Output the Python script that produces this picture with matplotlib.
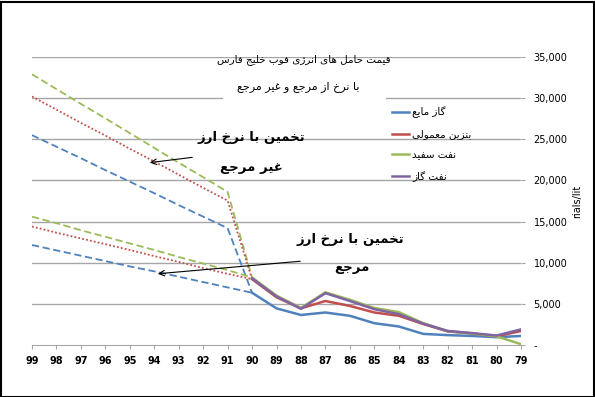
import matplotlib
matplotlib.use('Agg')
import matplotlib.pyplot as plt
from matplotlib.lines import Line2D
from matplotlib.patches import Rectangle

# years (Persian calendar, shown right to left as in the source)
years = [99, 98, 97, 96, 95, 94, 93, 92, 91, 90, 89, 88, 87, 86, 85, 84, 83, 82, 81, 80, 79]

# actual prices 90..79
lpg_actual = [6350, 4450, 3650, 3950, 3550, 2650, 2250, 1350, 1200, 1100, 950, 1100]
gasoline_actual = [8000, 5800, 4450, 5350, 4750, 3950, 3550, 2550, 1650, 1400, 1050, 1700]
kerosene_actual = [8200, 6000, 4500, 6400, 5500, 4500, 4000, 2650, 1700, 1400, 1050, 100]
gasoil_actual = [8100, 5900, 4400, 6300, 5350, 4350, 3750, 2600, 1700, 1450, 1150, 1900]

# estimate with non-reference exchange rate, 99..90
lpg_free = [25500, 24100, 22700, 21250, 19850, 18450, 17000, 15600, 14200, 6350]
gasoline_free = [30200, 28600, 27000, 25450, 23850, 22300, 20700, 19100, 17550, 8000]
kerosene_free = [32900, 31100, 29300, 27550, 25750, 23950, 22150, 20400, 18600, 8200]

# estimate with reference exchange rate, 99..90
lpg_ref = [12150, 11500, 10850, 10200, 9550, 8950, 8300, 7650, 7000, 6350]
gasoline_ref = [14400, 13650, 12950, 12250, 11550, 10800, 10100, 9350, 8650, 8000]
kerosene_ref = [15600, 14800, 13950, 13150, 12350, 11550, 10700, 9900, 9100, 8200]

yticks = [0, 5000, 10000, 15000, 20000, 25000, 30000, 35000]
ytick_labels = ['-', '5,000', '10,000', '15,000', '20,000', '25,000', '30,000', '35,000']

names = ['گاز مایع', 'بنزین معمولی', 'نفت سفید', 'نفت گاز']
title1 = 'قیمت حامل های انرژی فوب خلیج فارس'
title2 = 'با نرخ از مرجع و غیر مرجع'
note = 'تخمین با نرخ ارز'
note_free = 'غیر مرجع'
note_ref = 'مرجع'

blue, red, green, purple = '#4F81BD', '#C0504D', '#9BBB59', '#8064A2'

# tiny arabic shaper: matplotlib does not join letters by itself
FORMS = {
    'ا': ('\uFE8D', '\uFE8E', None, None),
    'ب': ('\uFE8F', '\uFE90', '\uFE91', '\uFE92'),
    'ت': ('\uFE95', '\uFE96', '\uFE97', '\uFE98'),
    'ج': ('\uFE9D', '\uFE9E', '\uFE9F', '\uFEA0'),
    'ح': ('\uFEA1', '\uFEA2', '\uFEA3', '\uFEA4'),
    'خ': ('\uFEA5', '\uFEA6', '\uFEA7', '\uFEA8'),
    'د': ('\uFEA9', '\uFEAA', None, None),
    'ر': ('\uFEAD', '\uFEAE', None, None),
    'ز': ('\uFEAF', '\uFEB0', None, None),
    'س': ('\uFEB1', '\uFEB2', '\uFEB3', '\uFEB4'),
    'ع': ('\uFEC9', '\uFECA', '\uFECB', '\uFECC'),
    'غ': ('\uFECD', '\uFECE', '\uFECF', '\uFED0'),
    'ف': ('\uFED1', '\uFED2', '\uFED3', '\uFED4'),
    'ق': ('\uFED5', '\uFED6', '\uFED7', '\uFED8'),
    'ل': ('\uFEDD', '\uFEDE', '\uFEDF', '\uFEE0'),
    'م': ('\uFEE1', '\uFEE2', '\uFEE3', '\uFEE4'),
    'ن': ('\uFEE5', '\uFEE6', '\uFEE7', '\uFEE8'),
    'ه': ('\uFEE9', '\uFEEA', '\uFEEB', '\uFEEC'),
    'و': ('\uFEED', '\uFEEE', None, None),
    'ژ': ('\uFB8A', '\uFB8B', None, None),
    'گ': ('\uFB92', '\uFB93', '\uFB94', '\uFB95'),
    'ی': ('\uFBFC', '\uFBFD', '\uFBFE', '\uFBFF'),
}


def fa(s):
    out = []
    for i, ch in enumerate(s):
        if ch not in FORMS:
            out.append(ch)
            continue
        prev = s[i - 1] if i > 0 else ''
        nxt = s[i + 1] if i + 1 < len(s) else ''
        jp = prev in FORMS and FORMS[prev][2] is not None
        jn = FORMS[ch][2] is not None and nxt in FORMS
        iso, fin, ini, med = FORMS[ch]
        if jp and jn:
            out.append(med)
        elif jp:
            out.append(fin)
        elif jn:
            out.append(ini)
        else:
            out.append(iso)
    return ''.join(reversed(out))


plt.rcParams['font.family'] = ['DejaVu Sans']

W, H = 595, 397
fig = plt.figure(figsize=(W / 100, H / 100), dpi=100)
ax = fig.add_axes([32 / W, (H - 345) / H, (521 - 32) / W, (345 - 57) / H])

pos = list(range(len(years)))
est = pos[:10]
act = pos[9:]

for yv in yticks[1:]:
    ax.axhline(yv, color='#A6A6A6', lw=1, zorder=0)

ax.plot(est, kerosene_free, color=green, lw=1.3, ls=(0, (4, 2)))
ax.plot(est, gasoline_free, color=red, lw=1.3, ls=(0, (1, 1.2)))
ax.plot(est, lpg_free, color=blue, lw=1.3, ls=(0, (4, 2)))
ax.plot(est, kerosene_ref, color=green, lw=1.3, ls=(0, (4, 2)))
ax.plot(est, gasoline_ref, color=red, lw=1.3, ls=(0, (1, 1.2)))
ax.plot(est, lpg_ref, color=blue, lw=1.3, ls=(0, (4, 2)))

ax.plot(act, lpg_actual, color=blue, lw=1.8)
ax.plot(act, gasoline_actual, color=red, lw=1.8)
ax.plot(act, kerosene_actual, color=green, lw=1.8)
ax.plot(act, gasoil_actual, color=purple, lw=1.8)

ax.set_xlim(0, len(years) - 1)
ax.set_ylim(0, 35000)
ax.set_xticks(pos)
ax.set_xticklabels([str(y) for y in years], fontsize=7, fontweight='bold')
ax.yaxis.tick_right()
ax.set_yticks(yticks)
ax.set_yticklabels(ytick_labels, fontsize=7)
ax.tick_params(axis='x', length=3, color='#A6A6A6', pad=5)
ax.tick_params(axis='y', length=3, color='#A6A6A6', pad=6)
for s in ['top', 'left', 'right']:
    ax.spines[s].set_visible(False)
ax.spines['bottom'].set_color('#A6A6A6')
ax.yaxis.set_label_position('right')
ax.set_ylabel('rials/lit', fontsize=7, labelpad=3)

handles = [Line2D([], [], color=c, lw=1.8) for c in [blue, red, green, purple]]
ax.legend(handles, [fa(n) for n in names], loc='upper left',
          bbox_to_anchor=(383 / W, 1 - 97 / H), bbox_transform=fig.transFigure,
          frameon=False, fontsize=7.5, handlelength=1.6, handletextpad=0.3,
          labelspacing=1.05)

# title box
fig.patches.append(Rectangle((223 / W, 1 - 101 / H), 163 / W, 37 / H,
                             transform=fig.transFigure, facecolor='white',
                             edgecolor='none', zorder=1))
fig.text(304 / W, 1 - 60 / H, fa(title1), ha='center', va='center', fontsize=7.5, zorder=3)
fig.text(298 / W, 1 - 87 / H, fa(title2), ha='center', va='center', fontsize=8, zorder=3)

# notes
fig.text(251 / W, 1 - 138 / H, fa(note), ha='center', va='center', fontsize=9.5, fontweight='bold')
fig.text(251 / W, 1 - 167 / H, fa(note_free), ha='center', va='center', fontsize=9.5, fontweight='bold')
fig.text(350 / W, 1 - 239 / H, fa(note), ha='center', va='center', fontsize=9.5, fontweight='bold')
fig.text(352 / W, 1 - 268 / H, fa(note_ref), ha='center', va='center', fontsize=9.5, fontweight='bold')

ax.annotate('', xy=(147 / W, 1 - 163 / H), xytext=(195 / W, 1 - 157 / H),
            xycoords='figure fraction', textcoords='figure fraction',
            arrowprops=dict(arrowstyle='->', color='black', lw=0.8))
ax.annotate('', xy=(155 / W, 1 - 274 / H), xytext=(303 / W, 1 - 261 / H),
            xycoords='figure fraction', textcoords='figure fraction',
            arrowprops=dict(arrowstyle='->', color='black', lw=0.8))

fig.patches.append(Rectangle((0.5 / W, 0.5 / H), (W - 2) / W, (H - 2) / H,
                             transform=fig.transFigure, facecolor='none',
                             edgecolor='black', lw=1.5, zorder=5))

fig.savefig('out.png', dpi=100)
